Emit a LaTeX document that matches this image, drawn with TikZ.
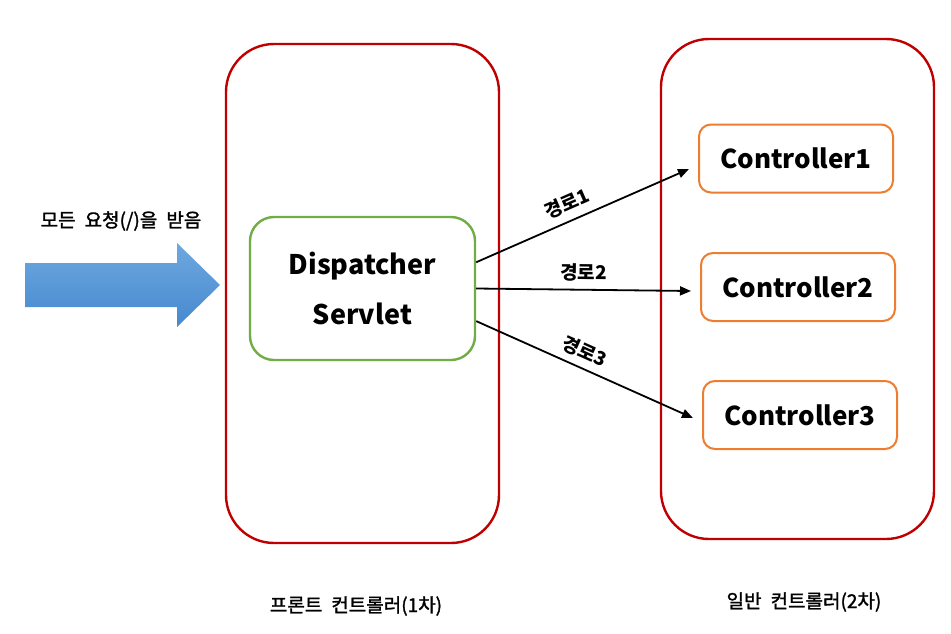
\documentclass[tikz,border=0pt]{standalone}
\usepackage{fontspec}
\setmainfont{Noto Sans CJK KR}
\newfontfamily\krmed{Noto Sans CJK KR}[FakeBold=1.5]
\usetikzlibrary{arrows.meta,calc}
\definecolor{frame}{HTML}{C00000}
\definecolor{dsgreen}{HTML}{70AD47}
\definecolor{ctrlorange}{HTML}{ED7D31}
\definecolor{blueA}{HTML}{6EA8DF}
\definecolor{blueB}{HTML}{4689CF}
\tikzset{
  framebox/.style={draw=frame,line width=2.4pt,rounded corners=48pt,minimum width=273pt,inner sep=0pt},
  dsbox/.style={draw=dsgreen,line width=2.4pt,rounded corners=24pt,minimum width=225pt,minimum height=143pt,inner sep=0pt,align=center,font=\fontsize{27}{50}\selectfont\bfseries},
  ctrlbox/.style={draw=ctrlorange,line width=2pt,rounded corners=12pt,minimum width=194pt,minimum height=68pt,inner sep=0pt,font=\fontsize{26}{30}\selectfont\bfseries},
  route/.style={line width=1.8pt,-{Triangle[length=11pt,width=9pt]}},
  routelabel/.style={font=\fontsize{19}{22}\selectfont\bfseries,sloped,above=4pt},
  caption/.style={font=\fontsize{19}{22}\selectfont\krmed}
}
\begin{document}
\begin{tikzpicture}[x=1pt,y=-1pt]
\useasboundingbox (0,0) rectangle (951,633);
% frames
\node[framebox,minimum height=499pt] (front) at (362.5,293.5) {};
\node[framebox,minimum height=500pt] (general) at (797.5,289) {};
% dispatcher
\node[dsbox] (ds) at (362.5,288.5) {Dispatcher\\Servlet};
% controllers
\node[ctrlbox] (c1) at (796,158.5) {Controller1};
\node[ctrlbox] (c2) at (798,287) {Controller2};
\node[ctrlbox] (c3) at (800,415) {Controller3};
% arrow tips
\coordinate (t1) at (689,169);
\coordinate (t2) at (691,291);
\coordinate (t3) at (693,418);
\draw[route] (ds.13) -- node[routelabel,pos=0.46]{경로1} (t1);
\draw[route] (ds.east) -- node[routelabel,pos=0.5]{경로2} (t2);
\draw[route] (ds.-16) -- node[routelabel,pos=0.47]{경로3} (t3);
% big blue arrow
\shade[top color=blueA,bottom color=blueB]
  (25,263) -- (177,263) -- (177,243) -- (220,285) -- (177,327) -- (177,307) -- (25,307) -- cycle;
\node[caption] (req) at (121,221) {모든\hspace{9pt}요청(/)을\hspace{9pt}받음};
% captions
\node[caption] (cap1) at (356,606) {프론트\hspace{9pt}컨트롤러(1차)};
\node[caption] (cap2) at (804,602) {일반\hspace{9pt}컨트롤러(2차)};
\end{tikzpicture}
\end{document}
